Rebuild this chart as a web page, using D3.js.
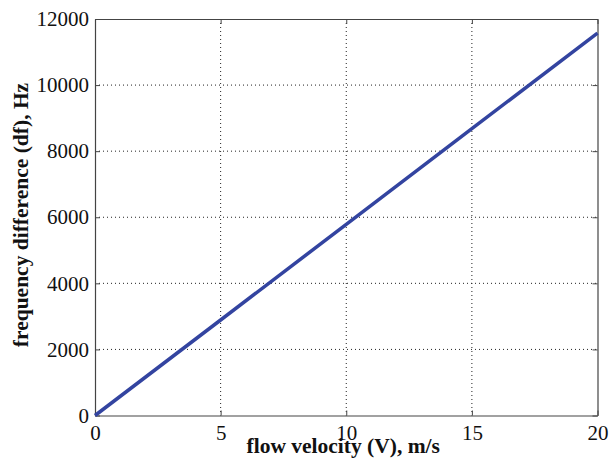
<!DOCTYPE html>
<html>
<head>
<meta charset="utf-8">
<script src="https://cdn.jsdelivr.net/npm/d3@7"></script>
<style>
  body { margin: 0; background: #fff; }
  svg text { font-family: "Liberation Serif", "Times New Roman", serif; }
</style>
</head>
<body>
<svg id="mainsvg" width="610" height="465"></svg>
<script>
// data
const velocity = [0, 5, 10, 15, 20]
const freqDiff = [0, 2890, 5785, 8680, 11575]
const xTicks = [0, 5, 10, 15, 20]
const yTicks = [0, 2000, 4000, 6000, 8000, 10000, 12000]

const serif = '"Liberation Serif", "Times New Roman", serif'
const svg = d3.select('#mainsvg')
const margin = { top: 19, right: 12, left: 95, bottom: 50 }
const width = +svg.attr('width')
const height = +svg.attr('height')
const innerWidth = width - margin.left - margin.right - 0.5
const innerHeight = height - margin.top - margin.bottom + 0.5

const g = svg.append('g')
    .attr('transform', `translate(${margin.left}, ${margin.top})`)

const x = d3.scaleLinear().domain([0, 20]).range([0, innerWidth])
const y = d3.scaleLinear().domain([0, 12000]).range([innerHeight, 0])

// dotted grid
g.selectAll('.vgrid').data(xTicks.slice(1, -1)).join('line')
    .attr('x1', d => x(d)).attr('x2', d => x(d))
    .attr('y1', 0).attr('y2', innerHeight)
    .attr('stroke', '#222').attr('stroke-width', 1)
    .attr('stroke-dasharray', '1,3')
g.selectAll('.hgrid').data(yTicks.slice(1, -1)).join('line')
    .attr('x1', 0).attr('x2', innerWidth)
    .attr('y1', d => y(d)).attr('y2', d => y(d))
    .attr('stroke', '#222').attr('stroke-width', 1)
    .attr('stroke-dasharray', '1,3')

// axes, ticks pointing inward (matlab style)
const fmt = d3.format('d')
const xAxis = d3.axisBottom(x).tickValues(xTicks).tickFormat(fmt).tickSizeInner(-5).tickSizeOuter(0).tickPadding(10)
const yAxis = d3.axisLeft(y).tickValues(yTicks).tickFormat(fmt).tickSizeInner(-5).tickSizeOuter(0).tickPadding(6)
g.append('g').attr('transform', `translate(0, ${innerHeight})`).call(xAxis)
g.append('g').call(yAxis)
g.append('g').attr('transform', `translate(${innerWidth}, 0)`)
    .call(d3.axisRight(y).tickValues(yTicks).tickSizeInner(-5).tickSizeOuter(0).tickFormat(''))
g.append('g')
    .call(d3.axisTop(x).tickValues(xTicks).tickSizeInner(-5).tickSizeOuter(0).tickFormat(''))

g.selectAll('g').attr('font-family', serif).attr('font-size', 21)
g.selectAll('.domain').attr('stroke', '#444').attr('stroke-width', 1.2)
g.selectAll('.tick line').attr('stroke', '#444')
g.selectAll('.tick text').attr('fill', '#111')
    .style('font-family', serif).style('font-size', '21px')

// the data line
const line = d3.line().x((d, i) => x(velocity[i])).y(d => y(d))
g.append('path').datum(freqDiff)
    .attr('d', line)
    .attr('fill', 'none')
    .attr('stroke', '#3344a0')
    .attr('stroke-width', 3.5)

// labels
svg.append('text')
    .attr('x', margin.left + innerWidth / 2 - 3).attr('y', 453)
    .attr('text-anchor', 'middle')
    .style('font-family', serif).style('font-size', '21.5px')
    .attr('font-weight', 'bold').attr('fill', '#111')
    .text('flow velocity (V), m/s')
svg.append('text')
    .attr('transform', 'translate(28, 215) rotate(-90)')
    .attr('text-anchor', 'middle')
    .style('font-family', serif).style('font-size', '21.5px')
    .attr('font-weight', 'bold').attr('fill', '#111')
    .text('frequency difference (df), Hz')
</script>
</body>
</html>
